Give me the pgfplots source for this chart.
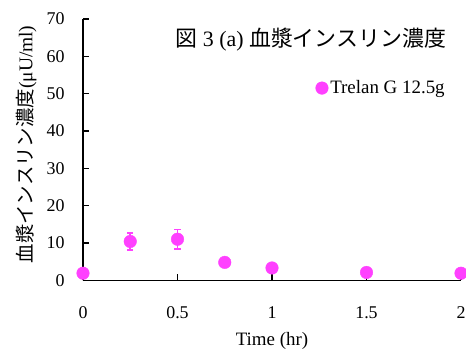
\documentclass[border=0pt]{standalone}
\usepackage{fontspec}
\setmainfont{Liberation Serif}
\newfontfamily\jp{Noto Sans CJK JP}
\usepackage{pgfplots}
\pgfplotsset{compat=1.18}
\definecolor{mag}{RGB}{255,64,255}
\begin{document}
\begin{tikzpicture}
\path[use as bounding box] (-83bp,-75.7bp) rectangle (383bp,280.3bp);
\begin{axis}[
  at={(0,0)}, anchor=south west,
  scale only axis, width=378bp, height=261.3bp,
  xmin=0, xmax=2, ymin=0, ymax=70,
  axis x line=bottom, axis y line=left,
  axis line style={-, line width=1.6bp},
  xtick={0,0.5,1,1.5,2}, ytick={0,10,...,70},
  tick style={line width=1.6bp, black}, major tick length=6bp, tick align=inside,
  ticklabel style={font=\fontsize{18}{18}\selectfont},
  /pgf/number format/assume math mode=true,
  xticklabel style={yshift=-23bp},
  yticklabel style={xshift=-15bp},
  xlabel={Time (hr)},
  xlabel style={at={(axis description cs:0.5,0)}, anchor=center, yshift=-61bp, font=\fontsize{19}{19}\selectfont},
  ylabel={{\jp 血漿インスリン濃度}(μU/ml)},
  ylabel style={at={(axis description cs:-0.15,0.52)}, anchor=center, font=\fontsize{19.5}{19.5}\selectfont},
  clip=false,
  legend style={draw=none, fill=none, at={(axis cs:1.23,51.5)}, anchor=west, font=\fontsize{19}{19}\selectfont, inner sep=0pt},
  legend image code/.code={\draw[#1, mark repeat=1] plot coordinates {(0bp,0bp)};},
]
\addplot[only marks, mark=*, mark size=6.3bp, color=mag, mark options={fill=mag, draw=mag},
  error bars/.cd, y dir=both, y explicit,
  error bar style={line width=1.5bp, mag},
  error mark options={rotate=90, mark size=3bp, line width=1.5bp, mag}]
  coordinates {
  (0,1.9) +- (0,0.4)
  (0.25,10.4) +- (0,2.3)
  (0.5,11.0) +- (0,2.6)
  (0.75,4.8) +- (0,0.8)
  (1,3.3) +- (0,0.6)
  (1.5,2.1) +- (0,0.5)
  (2,1.9) +- (0,0.4)
  };
\addlegendentry{Trelan G 12.5g}
\node[anchor=center, font=\fontsize{22}{22}\selectfont] at (axis cs:1.205,64.4) {{\jp 図} 3 (a) {\jp 血漿インスリン濃度}};
\end{axis}
\end{tikzpicture}
\end{document}
